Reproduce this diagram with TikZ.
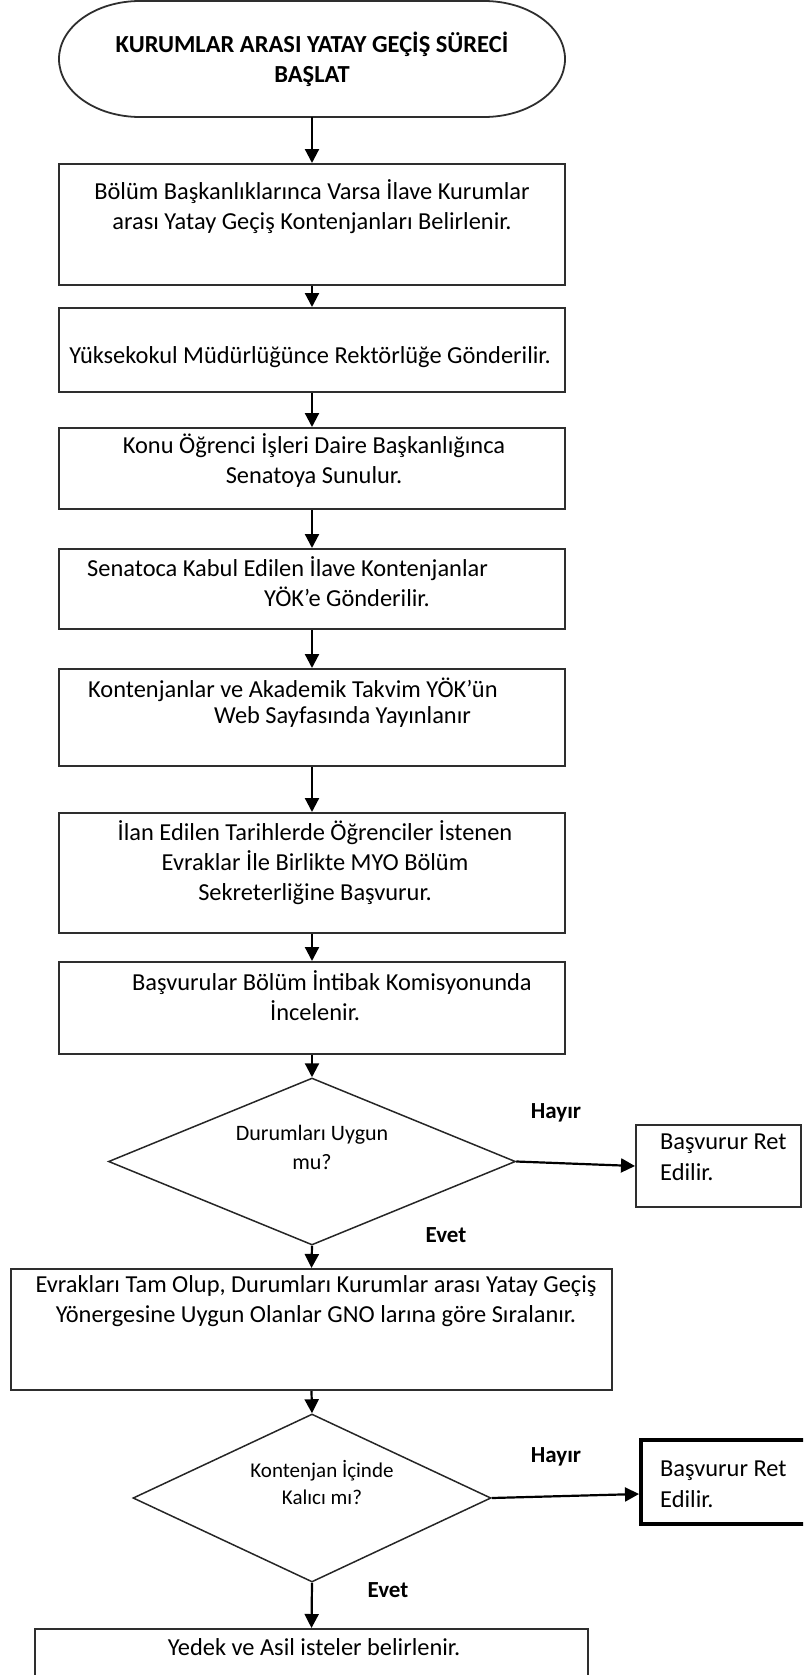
\documentclass[tikz,border=0pt]{standalone}
\usepackage{fontspec}
\setmainfont{Carlito}
\usetikzlibrary{arrows.meta,shapes.geometric}
\begin{document}
\begin{tikzpicture}[x=1pt,y=-1pt,
  box/.style={draw=black!82, line width=2pt, rectangle, inner sep=0pt},
  decision/.style={draw=black!85, line width=1.5pt, diamond, inner sep=0pt},
  txt/.style={font=\fontsize{24.4}{30}\selectfont, align=center, inner sep=0pt},
  ltxt/.style={font=\fontsize{24.4}{31}\selectfont, align=left, inner sep=0pt, anchor=west},
  dtxt/.style={font=\fontsize{22}{29}\selectfont, align=center, inner sep=0pt},
  lbl/.style={font=\fontsize{23}{28}\selectfont\bfseries, inner sep=0pt},
  flow/.style={draw=black, line width=2.2pt, -{Triangle[length=14pt,width=14pt]}}
]
\useasboundingbox (0,0) rectangle (803,1675);
\clip (0,0) rectangle (803,1675);

% start terminator: straight top and bottom, elliptical ends
\draw[black!82, line width=1.8pt] (140,1) -- (484,1)
  arc[start angle=270, end angle=450, x radius=81, y radius=58]
  -- (140,117)
  arc[start angle=90, end angle=270, x radius=81, y radius=58] -- cycle;
\node[font=\fontsize{24.5}{30}\selectfont\bfseries, align=center, inner sep=0pt,
      minimum width=506pt, minimum height=116pt] (start) at (312,59)
  {KURUMLAR ARASI YATAY GEÇİŞ SÜRECİ\\BAŞLAT};

% process boxes
\node[box, minimum width=506pt, minimum height=121pt] (b1) at (312,224.5) {};
\node[txt] (t1) at (312,207) {Bölüm Başkanlıklarınca Varsa İlave Kurumlar\\arası Yatay Geçiş Kontenjanları Belirlenir.};

\node[box, minimum width=506pt, minimum height=84pt] (b2) at (312,350) {};
\node[txt] (t2) at (310,357) {Yüksekokul Müdürlüğünce Rektörlüğe Gönderilir.};

\node[box, minimum width=506pt, minimum height=81pt] (b3) at (312,468.5) {};
\node[txt] (t3) at (314,461) {Konu Öğrenci İşleri Daire Başkanlığınca\\Senatoya Sunulur.};

\node[box, minimum width=506pt, minimum height=80pt] (b4) at (312,589) {};
\node[ltxt] (t4a) at (87,569) {Senatoca Kabul Edilen İlave Kontenjanlar};
\node[ltxt] (t4b) at (264,597) {YÖK’e Gönderilir.};

\node[box, minimum width=506pt, minimum height=97pt] (b5) at (312,717.5) {};
\node[ltxt] (t5a) at (88,690) {Kontenjanlar ve Akademik Takvim YÖK’ün};
\node[ltxt] (t5b) at (214,717) {Web Sayfasında Yayınlanır};

\node[box, minimum width=506pt, minimum height=120pt] (b6) at (312,873) {};
\node[txt] (t6) at (315,863) {İlan Edilen Tarihlerde Öğrenciler İstenen\\Evraklar İle Birlikte MYO Bölüm\\Sekreterliğine Başvurur.};

\node[box, minimum width=506pt, minimum height=92pt] (b7) at (312,1008) {};
\node[ltxt] (t7a) at (132,983) {Başvurular Bölüm İntibak Komisyonunda};
\node[ltxt] (t7b) at (270,1011) {İncelenir.};

% first decision
\node[decision, minimum width=407pt, minimum height=167pt] (d1) at (312,1161.5) {};
\node[dtxt] (q1) at (312,1147) {Durumları Uygun\\mu?};

\node[box, minimum width=165pt, minimum height=82pt] (r1) at (718.5,1166) {};
\node[ltxt] (s1) at (660,1157) {Başvurur Ret\\Edilir.};

\node[box, minimum width=601pt, minimum height=121pt] (b8) at (311.5,1329.5) {};
\node[txt] (t8) at (316,1301) {Evrakları Tam Olup, Durumları Kurumlar arası Yatay Geçiş\\Yönergesine Uygun Olanlar GNO larına göre Sıralanır.};

% second decision
\node[decision, minimum width=358pt, minimum height=168pt] (d2) at (312,1498) {};
\node[font=\fontsize{21}{27}\selectfont, align=center, inner sep=0pt] (q2) at (322,1482) {Kontenjan İçinde\\Kalıcı mı?};

\node[draw=black, line width=4pt, rectangle, inner sep=0pt,
      minimum width=172pt, minimum height=84pt] (r2) at (727,1482) {};
\node[ltxt] (s2) at (660,1484) {Başvurur Ret\\Edilir.};

\node[box, minimum width=553pt, minimum height=90pt] (b9) at (311.5,1674) {};
\node[txt] (t9) at (314,1647) {Yedek ve Asil isteler belirlenir.};

% branch labels
\node[lbl] (h1) at (556,1113) {Hayır};
\node[lbl] (e1) at (446,1235) {Evet};
\node[lbl] (h2) at (556,1457) {Hayır};
\node[lbl] (e2) at (388,1590) {Evet};

% connectors
\draw[flow] (start.south) -- (b1.north);
\draw[flow] (b1.south) -- (b2.north);
\draw[flow] (b2.south) -- (b3.north);
\draw[flow] (b3.south) -- (b4.north);
\draw[flow] (b4.south) -- (b5.north);
\draw[flow] (b5.south) -- (b6.north);
\draw[flow] (b6.south) -- (b7.north);
\draw[flow] (b7.south) -- (d1.north);
\draw[flow] (d1.east) -- (r1.west);
\draw[flow] (d1.south) -- (b8.north);
\draw[flow] (b8.south) -- (d2.north);
\draw[flow] (d2.east) -- ([yshift=-12pt]r2.west);
\draw[flow] (d2.south) -- (b9.north);
\end{tikzpicture}
\end{document}
